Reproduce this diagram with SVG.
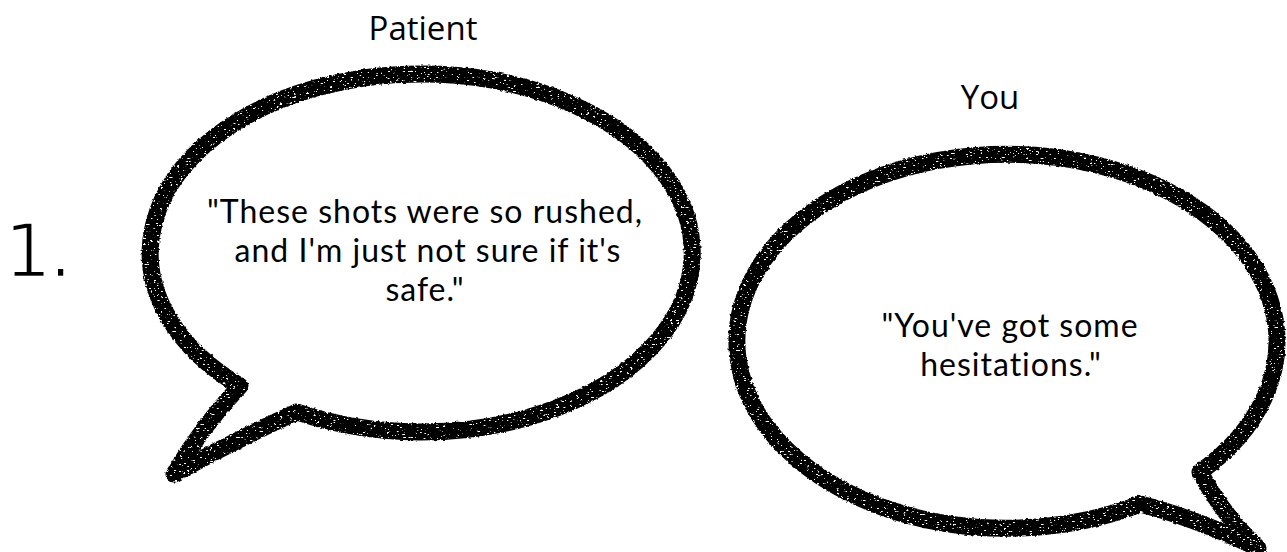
<svg xmlns="http://www.w3.org/2000/svg" width="1287" height="552" viewBox="0 0 1287 552">
  <defs>
    <filter id="brush" x="-5%" y="-5%" width="110%" height="110%">
      <feTurbulence type="fractalNoise" baseFrequency="0.35" numOctaves="2" seed="4" result="n1"/>
      <feDisplacementMap in="SourceGraphic" in2="n1" scale="3" xChannelSelector="R" yChannelSelector="G" result="d"/>
      <feTurbulence type="fractalNoise" baseFrequency="0.3 0.7" numOctaves="2" seed="9" result="n2"/>
      <feColorMatrix in="n2" type="matrix" values="0 0 0 0 0  0 0 0 0 0  0 0 0 0 0  0 0 0 -16 11.6" result="holes"/>
      <feComposite in="d" in2="holes" operator="in"/>
    </filter>
  </defs>
  <style>
    .bubble { fill: none; stroke: #000; stroke-width: 17; stroke-linejoin: round; stroke-linecap: round; filter: url(#brush); }
    .lbl { font-family: "Open Sans", "Noto Sans", sans-serif; fill: #000; text-anchor: middle; }
    .speaker { font-size: 33px; }
    .quote { font-family: Lato, "Open Sans", sans-serif; font-size: 32px; letter-spacing: 1px; }
    .num { font-family: "DejaVu Sans", sans-serif; font-size: 75px; fill: #000; stroke: #fff; stroke-width: 2.5px; letter-spacing: -3px; }
  </style>
  <rect width="1287" height="552" fill="#fff"/>

  <g id="number">
    <text class="num" x="4" y="277">1.</text>
  </g>

  <g id="patient-bubble">
    <path class="bubble" d="M 240 386 Q 203 425 174 474 Q 235 440 297 412 A 271 179 0 1 0 240 386 Z"/>
    <text class="lbl speaker" x="423" y="40">Patient</text>
    <text class="lbl quote" x="425" y="223">"These shots were so rushed,</text>
    <text class="lbl quote" x="428" y="262">and I'm just not sure if it's</text>
    <text class="lbl quote" x="425" y="301">safe."</text>
  </g>

  <g id="you-bubble">
    <path class="bubble" d="M 1200 472 Q 1222 514 1258 548 Q 1195 518 1140 504 A 270 187 0 1 1 1200 472 Z"/>
    <text class="lbl speaker" x="990" y="109">You</text>
    <text class="lbl quote" x="1010" y="337">"You've got some</text>
    <text class="lbl quote" x="1011" y="376">hesitations."</text>
  </g>

  <g id="connectors"></g>
</svg>
